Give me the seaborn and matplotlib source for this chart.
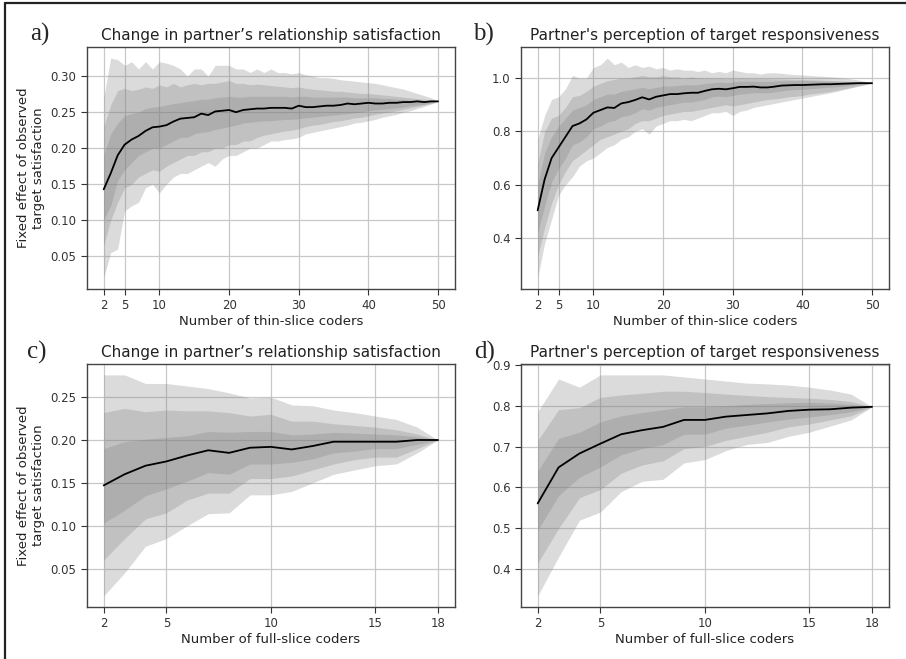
import numpy as np
import matplotlib
matplotlib.use("Agg")
import matplotlib.pyplot as plt
from matplotlib.lines import Line2D
import seaborn as sns

# x axes: number of coders
thin_coders = np.arange(2, 51)
full_coders = np.arange(2, 19)

# a) thin-slice, change in partner's relationship satisfaction
a_mean = [0.143, 0.165, 0.190, 0.205, 0.212, 0.217, 0.224, 0.229, 0.230,
          0.232, 0.237, 0.241, 0.242, 0.243, 0.248, 0.246, 0.251, 0.252, 0.253,
          0.250, 0.253, 0.254, 0.255, 0.255, 0.256, 0.256, 0.256, 0.255, 0.259,
          0.257, 0.257, 0.258, 0.259, 0.259, 0.260, 0.262, 0.261, 0.262, 0.263,
          0.262, 0.262, 0.263, 0.263, 0.264, 0.264, 0.265, 0.264, 0.265, 0.265]
a_hi_out = [0.270, 0.325, 0.323, 0.315, 0.320, 0.310, 0.320, 0.310, 0.320,
            0.318, 0.315, 0.310, 0.300, 0.310, 0.310, 0.300, 0.315, 0.315, 0.315,
            0.310, 0.310, 0.305, 0.310, 0.305, 0.310, 0.305, 0.305, 0.303, 0.305,
            0.302, 0.300, 0.298, 0.298, 0.297, 0.295, 0.294, 0.293, 0.292, 0.291,
            0.290, 0.288, 0.286, 0.284, 0.282, 0.279, 0.276, 0.273, 0.270, 0.265]
a_lo_out = [0.020, 0.055, 0.060, 0.113, 0.120, 0.125, 0.145, 0.150, 0.138,
            0.150, 0.160, 0.165, 0.165, 0.170, 0.175, 0.180, 0.175, 0.185, 0.190,
            0.190, 0.195, 0.200, 0.200, 0.205, 0.210, 0.210, 0.212, 0.213, 0.215,
            0.220, 0.222, 0.224, 0.226, 0.228, 0.230, 0.232, 0.235, 0.236, 0.238,
            0.240, 0.243, 0.245, 0.247, 0.250, 0.252, 0.255, 0.258, 0.261, 0.265]
a_hi_mid = [0.230, 0.260, 0.280, 0.283, 0.280, 0.282, 0.285, 0.283, 0.288,
            0.285, 0.290, 0.285, 0.288, 0.290, 0.288, 0.290, 0.290, 0.292, 0.294,
            0.290, 0.290, 0.288, 0.289, 0.288, 0.287, 0.286, 0.285, 0.284, 0.285,
            0.283, 0.282, 0.281, 0.280, 0.279, 0.279, 0.278, 0.277, 0.276, 0.276,
            0.275, 0.274, 0.273, 0.272, 0.271, 0.270, 0.269, 0.268, 0.267, 0.265]
a_lo_mid = [0.065, 0.100, 0.125, 0.145, 0.150, 0.160, 0.165, 0.170, 0.168,
            0.175, 0.180, 0.185, 0.190, 0.190, 0.195, 0.195, 0.200, 0.200, 0.205,
            0.205, 0.210, 0.210, 0.215, 0.218, 0.220, 0.222, 0.224, 0.225, 0.227,
            0.230, 0.232, 0.233, 0.235, 0.237, 0.238, 0.240, 0.242, 0.243, 0.245,
            0.247, 0.249, 0.250, 0.252, 0.254, 0.256, 0.258, 0.260, 0.262, 0.265]
a_hi_in = [0.190, 0.220, 0.235, 0.245, 0.248, 0.250, 0.255, 0.257, 0.258,
           0.260, 0.262, 0.263, 0.265, 0.266, 0.268, 0.268, 0.270, 0.271, 0.272,
           0.271, 0.271, 0.272, 0.272, 0.272, 0.272, 0.272, 0.272, 0.271, 0.272,
           0.272, 0.271, 0.271, 0.271, 0.271, 0.271, 0.271, 0.270, 0.270, 0.270,
           0.270, 0.269, 0.269, 0.268, 0.268, 0.267, 0.267, 0.266, 0.266, 0.265]
a_lo_in = [0.100, 0.120, 0.155, 0.170, 0.180, 0.190, 0.195, 0.200, 0.200,
           0.205, 0.210, 0.215, 0.215, 0.220, 0.222, 0.223, 0.226, 0.228, 0.230,
           0.232, 0.235, 0.236, 0.237, 0.238, 0.238, 0.239, 0.240, 0.240, 0.241,
           0.242, 0.243, 0.244, 0.245, 0.246, 0.247, 0.248, 0.249, 0.250, 0.252,
           0.253, 0.254, 0.255, 0.256, 0.257, 0.259, 0.260, 0.261, 0.263, 0.265]

# b) thin-slice, partner's perception of target responsiveness
b_mean = [0.504, 0.620, 0.700, 0.740, 0.780, 0.820, 0.830, 0.845, 0.870,
          0.880, 0.890, 0.888, 0.905, 0.910, 0.918, 0.928, 0.920, 0.930, 0.935,
          0.940, 0.940, 0.943, 0.945, 0.945, 0.952, 0.958, 0.960, 0.958, 0.962,
          0.967, 0.967, 0.968, 0.965, 0.965, 0.968, 0.972, 0.973, 0.974, 0.974,
          0.975, 0.976, 0.977, 0.977, 0.978, 0.979, 0.980, 0.981, 0.981, 0.981]
b_hi_out = [0.770, 0.860, 0.920, 0.930, 0.960, 1.010, 1.000, 1.000, 1.040,
            1.050, 1.075, 1.050, 1.060, 1.040, 1.050, 1.040, 1.045, 1.035, 1.040,
            1.030, 1.035, 1.030, 1.030, 1.025, 1.030, 1.020, 1.025, 1.020, 1.030,
            1.025, 1.020, 1.020, 1.015, 1.020, 1.020, 1.018, 1.015, 1.013, 1.012,
            1.010, 1.008, 1.007, 1.005, 1.003, 1.000, 0.997, 0.993, 0.988, 0.981]
b_lo_out = [0.250, 0.380, 0.470, 0.560, 0.600, 0.630, 0.670, 0.690, 0.700,
            0.720, 0.740, 0.750, 0.770, 0.780, 0.800, 0.810, 0.790, 0.820, 0.830,
            0.840, 0.840, 0.845, 0.840, 0.850, 0.860, 0.870, 0.870, 0.875, 0.860,
            0.875, 0.880, 0.890, 0.895, 0.900, 0.905, 0.910, 0.915, 0.920, 0.925,
            0.930, 0.935, 0.940, 0.945, 0.950, 0.957, 0.963, 0.970, 0.975, 0.981]
b_hi_mid = [0.680, 0.800, 0.850, 0.860, 0.890, 0.930, 0.935, 0.950, 0.970,
            0.980, 0.990, 0.995, 1.000, 1.000, 1.005, 1.010, 1.005, 1.005, 1.010,
            1.005, 1.005, 1.000, 1.005, 1.000, 1.000, 1.000, 1.000, 0.998, 1.000,
            1.000, 0.999, 0.999, 0.998, 0.998, 0.997, 0.997, 0.996, 0.995, 0.995,
            0.994, 0.993, 0.992, 0.991, 0.990, 0.989, 0.987, 0.985, 0.983, 0.981]
b_lo_mid = [0.330, 0.440, 0.530, 0.600, 0.650, 0.690, 0.710, 0.730, 0.750,
            0.770, 0.780, 0.790, 0.800, 0.810, 0.830, 0.840, 0.840, 0.850, 0.860,
            0.865, 0.870, 0.875, 0.875, 0.880, 0.885, 0.890, 0.895, 0.900, 0.895,
            0.900, 0.905, 0.910, 0.915, 0.920, 0.922, 0.925, 0.930, 0.932, 0.935,
            0.940, 0.943, 0.946, 0.950, 0.955, 0.960, 0.965, 0.970, 0.975, 0.981]
b_hi_in = [0.600, 0.720, 0.780, 0.820, 0.850, 0.880, 0.890, 0.900, 0.920,
           0.930, 0.940, 0.940, 0.950, 0.955, 0.960, 0.965, 0.960, 0.965, 0.970,
           0.970, 0.972, 0.975, 0.975, 0.975, 0.980, 0.982, 0.985, 0.983, 0.985,
           0.988, 0.988, 0.988, 0.987, 0.987, 0.988, 0.990, 0.990, 0.990, 0.990,
           0.990, 0.990, 0.989, 0.988, 0.988, 0.987, 0.986, 0.985, 0.983, 0.981]
b_lo_in = [0.420, 0.520, 0.610, 0.660, 0.700, 0.750, 0.760, 0.780, 0.810,
           0.820, 0.835, 0.840, 0.855, 0.860, 0.870, 0.885, 0.880, 0.890, 0.895,
           0.900, 0.905, 0.910, 0.910, 0.915, 0.920, 0.930, 0.932, 0.930, 0.935,
           0.940, 0.942, 0.945, 0.945, 0.945, 0.948, 0.952, 0.955, 0.957, 0.958,
           0.960, 0.962, 0.964, 0.966, 0.968, 0.970, 0.973, 0.976, 0.978, 0.981]

# c) full-slice, change in partner's relationship satisfaction
c_mean = [0.147, 0.160, 0.170, 0.175, 0.182, 0.188, 0.185, 0.191, 0.192,
          0.189, 0.193, 0.198, 0.198, 0.198, 0.198, 0.200, 0.200]
c_hi_out = [0.276, 0.276, 0.266, 0.266, 0.263, 0.260, 0.255, 0.249, 0.250,
            0.241, 0.240, 0.235, 0.232, 0.228, 0.224, 0.215, 0.200]
c_lo_out = [0.018, 0.045, 0.076, 0.085, 0.100, 0.114, 0.115, 0.136, 0.136,
            0.140, 0.150, 0.160, 0.165, 0.170, 0.172, 0.185, 0.200]
c_hi_mid = [0.232, 0.237, 0.233, 0.235, 0.234, 0.234, 0.232, 0.228, 0.230,
            0.222, 0.222, 0.219, 0.217, 0.215, 0.212, 0.207, 0.200]
c_lo_mid = [0.060, 0.085, 0.108, 0.115, 0.130, 0.138, 0.138, 0.155, 0.155,
            0.158, 0.165, 0.172, 0.177, 0.180, 0.180, 0.190, 0.200]
c_hi_in = [0.190, 0.198, 0.201, 0.203, 0.205, 0.210, 0.209, 0.210, 0.210,
           0.206, 0.207, 0.209, 0.208, 0.207, 0.206, 0.204, 0.200]
c_lo_in = [0.103, 0.118, 0.135, 0.143, 0.152, 0.162, 0.160, 0.172, 0.172,
           0.174, 0.178, 0.185, 0.187, 0.190, 0.190, 0.195, 0.200]

# d) full-slice, partner's perception of target responsiveness
d_mean = [0.561, 0.649, 0.683, 0.707, 0.730, 0.740, 0.748, 0.765, 0.765,
          0.773, 0.777, 0.781, 0.787, 0.790, 0.791, 0.795, 0.797]
d_hi_out = [0.785, 0.865, 0.845, 0.875, 0.875, 0.875, 0.875, 0.870, 0.865,
            0.860, 0.855, 0.853, 0.850, 0.845, 0.838, 0.828, 0.797]
d_lo_out = [0.335, 0.430, 0.520, 0.540, 0.590, 0.615, 0.620, 0.660, 0.668,
            0.690, 0.705, 0.710, 0.725, 0.735, 0.750, 0.765, 0.797]
d_hi_mid = [0.715, 0.790, 0.795, 0.820, 0.826, 0.830, 0.835, 0.835, 0.832,
            0.828, 0.825, 0.822, 0.820, 0.818, 0.815, 0.810, 0.797]
d_lo_mid = [0.415, 0.500, 0.575, 0.595, 0.635, 0.655, 0.665, 0.695, 0.700,
            0.715, 0.725, 0.735, 0.748, 0.755, 0.765, 0.775, 0.797]
d_hi_in = [0.640, 0.720, 0.735, 0.760, 0.775, 0.783, 0.790, 0.797, 0.797,
           0.800, 0.803, 0.805, 0.807, 0.808, 0.806, 0.803, 0.797]
d_lo_in = [0.495, 0.580, 0.625, 0.650, 0.680, 0.695, 0.705, 0.730, 0.730,
           0.745, 0.752, 0.760, 0.767, 0.772, 0.778, 0.785, 0.797]

titles = ["Change in partner\u2019s relationship satisfaction",
          "Partner's perception of target responsiveness",
          "Change in partner\u2019s relationship satisfaction",
          "Partner's perception of target responsiveness"]
letters = ["a)", "b)", "c)", "d)"]
xlabels = ["Number of thin-slice coders", "Number of thin-slice coders",
           "Number of full-slice coders", "Number of full-slice coders"]
ylabel = "Fixed effect of observed\ntarget satisfaction"
thin_ticks = [2, 5, 10, 20, 30, 40, 50]
full_ticks = [2, 5, 10, 15, 18]
a_yticks = [0.05, 0.10, 0.15, 0.20, 0.25, 0.30]
b_yticks = [0.4, 0.6, 0.8, 1.0]
c_yticks = [0.05, 0.10, 0.15, 0.20, 0.25]
d_yticks = [0.4, 0.5, 0.6, 0.7, 0.8, 0.9]

sns.set_style("ticks")
plt.rcParams['font.family'] = ['DejaVu Sans']

fig = plt.figure(figsize=(9.06, 6.59), dpi=100)
boxes = [[0.096, 0.5615, 0.406, 0.367], [0.575, 0.5615, 0.406, 0.367],
         [0.096, 0.0789, 0.406, 0.369], [0.575, 0.0789, 0.406, 0.369]]

panels = [
    (thin_coders, a_mean, a_hi_out, a_lo_out, a_hi_mid, a_lo_mid, a_hi_in, a_lo_in, thin_ticks, a_yticks, "%.2f"),
    (thin_coders, b_mean, b_hi_out, b_lo_out, b_hi_mid, b_lo_mid, b_hi_in, b_lo_in, thin_ticks, b_yticks, "%.1f"),
    (full_coders, c_mean, c_hi_out, c_lo_out, c_hi_mid, c_lo_mid, c_hi_in, c_lo_in, full_ticks, c_yticks, "%.2f"),
    (full_coders, d_mean, d_hi_out, d_lo_out, d_hi_mid, d_lo_mid, d_hi_in, d_lo_in, full_ticks, d_yticks, "%.1f"),
]

for i, (x, mean, ho, lo, hm, lm, hi, li, xt, yt, fmt) in enumerate(panels):
    ax = fig.add_axes(boxes[i])
    ax.grid(True, color="#c8c8c8", linewidth=0.9, zorder=0)
    ax.set_axisbelow(True)
    # nested uncertainty bands, overlapping grey
    ax.fill_between(x, lo, ho, color="grey", alpha=0.28, linewidth=0)
    ax.fill_between(x, lm, hm, color="grey", alpha=0.28, linewidth=0)
    ax.fill_between(x, li, hi, color="grey", alpha=0.28, linewidth=0)
    sns.lineplot(x=x, y=mean, ax=ax, color="black", linewidth=1.3)
    ax.set_xticks(xt)
    ax.set_yticks(yt)
    ax.set_yticklabels([fmt % v for v in yt])
    ax.tick_params(labelsize=8.5, colors="#333333", length=4)
    for s in ax.spines.values():
        s.set_color("#444444")
        s.set_linewidth(1.0)
    ax.set_title(titles[i], fontsize=11, color="#222222", pad=5)
    ax.set_xlabel(xlabels[i], fontsize=9.5, color="#222222", labelpad=2)
    if i % 2 == 0:
        ax.set_ylabel(ylabel, fontsize=9.5, color="#222222", labelpad=4)

# panel letters
fig.text(0.033, 0.948, "a)", family="Liberation Serif", fontsize=18, va="center")
fig.text(0.522, 0.948, "b)", family="Liberation Serif", fontsize=18, va="center")
fig.text(0.030, 0.465, "c)", family="Liberation Serif", fontsize=18, va="center")
fig.text(0.523, 0.465, "d)", family="Liberation Serif", fontsize=18, va="center")

# outer frame (top and left edges)
fig.add_artist(Line2D([0.005, 0.005], [0.0, 0.995], color="#222222", linewidth=1.6))
fig.add_artist(Line2D([0.005, 1.0], [0.995, 0.995], color="#222222", linewidth=1.6))

fig.savefig("out.png", dpi=100)
